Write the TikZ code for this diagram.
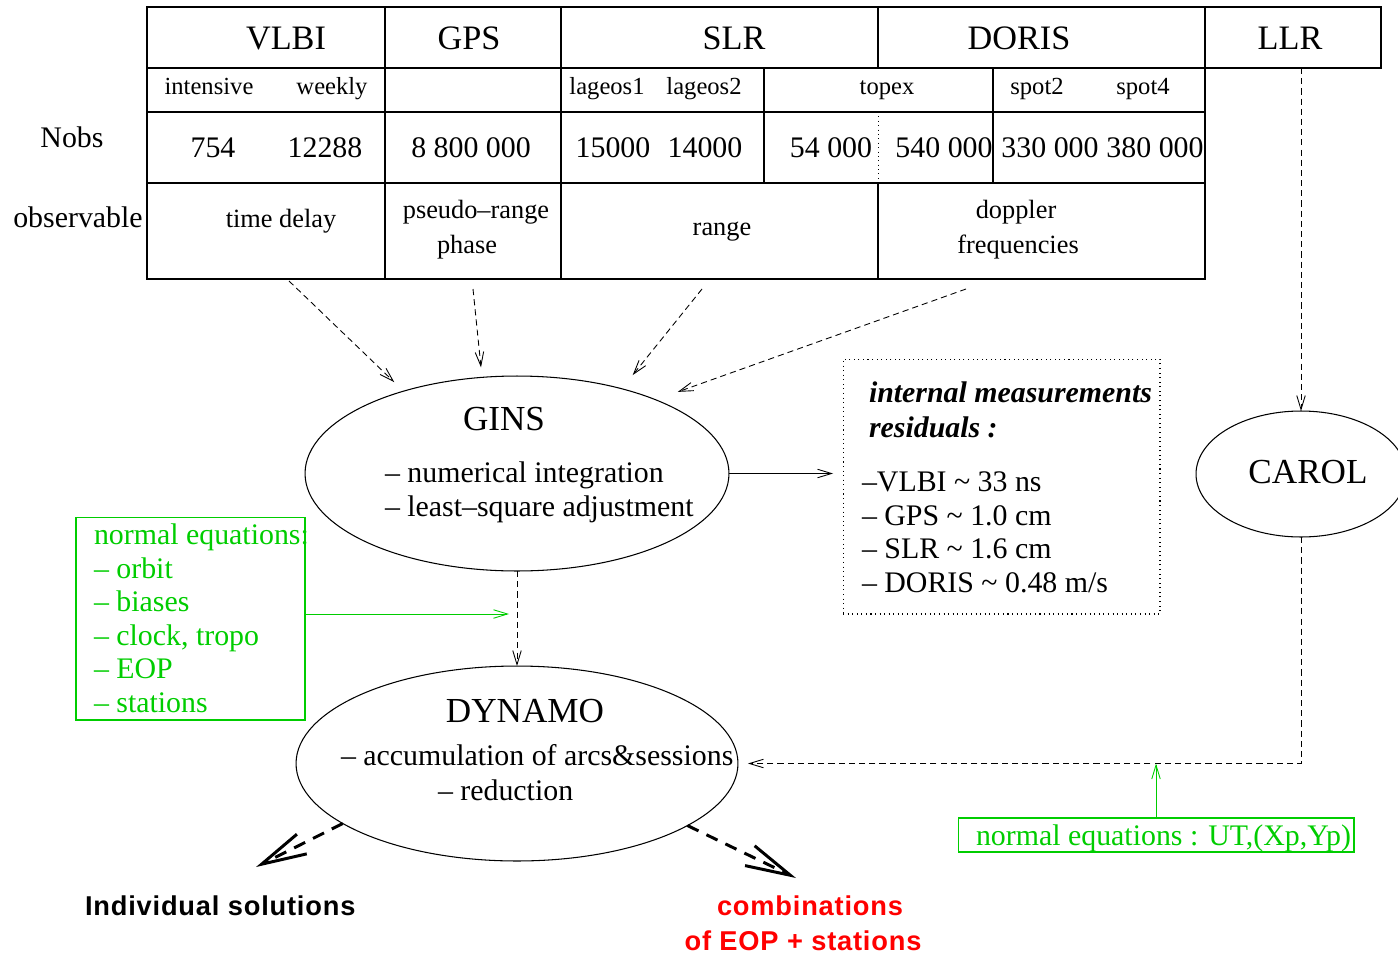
\documentclass[tikz,border=0pt]{standalone}
\usepackage{fontspec}
\setmainfont{Liberation Serif}
\setsansfont{Liberation Sans}
\newfontfamily\widesans[LetterSpace=3,BoldFont={Liberation Sans Bold}]{Liberation Sans}
\usetikzlibrary{arrows.meta,shapes.geometric}
\definecolor{fgreen}{RGB}{0,205,0}
\definecolor{fred}{RGB}{255,0,0}
\begin{document}
\begin{tikzpicture}[x=0.02cm,y=-0.02cm,
  every node/.style={inner sep=0pt,outer sep=0pt},
  hd/.style={font=\fontsize{19.5}{22}\selectfont,anchor=base},
  sublbl/.style={font=\fontsize{14}{16}\selectfont,anchor=base},
  num/.style={font=\fontsize{17}{20}\selectfont,anchor=base},
  obs/.style={font=\fontsize{15}{18}\selectfont,anchor=base},
  txt/.style={font=\fontsize{17}{20}\selectfont,anchor=base west},
  ttl/.style={font=\fontsize{20}{24}\selectfont,anchor=base},
  gtxt/.style={txt,text=fgreen},
  bigsans/.style={font=\widesans\bfseries\fontsize{15.5}{18}\selectfont,anchor=base},
  oval/.style={draw,ellipse,line width=0.6pt},
  tline/.style={line width=0.6pt},
  thinarrow/.style={-{Straight Barb[length=0.28cm,width=0.17cm]}},
  dsh/.style={thinarrow,line width=0.5pt,dash pattern=on 3.5pt off 2.3pt},
  garrow/.style={thinarrow,line width=0.5pt,draw=fgreen},
  thickarrow/.style={line width=1.7pt,dash pattern=on 7pt off 5pt,
     -{Straight Barb[length=0.9cm,width=0.44cm,line width=1.7pt]}}
]
\useasboundingbox (0,0) rectangle (1398,953);

% ---------------- table ----------------
\draw[line width=0.9pt] (147,7) rectangle (1205,279);
\node[draw,line width=0.6pt,minimum width=3.52cm,minimum height=1.22cm] (llrbox) at (1293,37.5) {};
\draw[tline] (147,68) -- (1205,68);
\draw[tline] (147,112) -- (1205,112);
\draw[tline] (147,183) -- (1205,183);
\draw[tline] (385,7) -- (385,279);
\draw[tline] (561,7) -- (561,279);
\draw[tline] (878,7) -- (878,68);
\draw[tline] (878,183) -- (878,279);
\draw[tline] (764,68) -- (764,183);
\draw[tline] (993,68) -- (993,183);
\draw[line width=0.5pt,dotted] (878,112) -- (878,183);

\node[hd] (vlbi) at (286,50) {VLBI};
\node[hd] (gps) at (469,50) {GPS};
\node[hd] (slr) at (734,50) {SLR};
\node[hd] (doris) at (1019,50) {DORIS};
\node[hd] (llr) at (1290,50) {LLR};

\node[sublbl] (intensive) at (209,94) {intensive};
\node[sublbl] (weekly) at (332,94) {weekly};
\node[sublbl] (lageosA) at (607,94) {lageos1};
\node[sublbl] (lageosB) at (704,94) {lageos2};
\node[sublbl] (topex) at (887,94) {topex};
\node[sublbl] (spotA) at (1037,94) {spot2};
\node[sublbl] (spotB) at (1143,94) {spot4};

\node[num] (nobs) at (72,147) {Nobs};
\node[num] (observable) at (78,227) {observable};

\node[num] (nA) at (213,157) {754};
\node[num] (nB) at (325,157) {12288};
\node[num] (nC) at (471,157) {8 800 000};
\node[num] (nD) at (613,157) {15000};
\node[num] (nE) at (705,157) {14000};
\node[num] (nF) at (831,157) {54 000};
\node[num] (nG) at (944,157) {540 000};
\node[num] (nH) at (1050,157) {330 000};
\node[num] (nI) at (1155,157) {380 000};

\node[obs] (timedelay) at (281,227) {time delay};
\node[obs] (pseudo) at (476,218) {pseudo–range};
\node[obs] (phase) at (467,253) {phase};
\node[obs] (range) at (722,235) {range};
\node[obs] (doppler) at (1016,218) {doppler};
\node[obs] (freq) at (1018,253) {frequencies};

% ---------------- GINS ----------------
\node[oval,minimum width=8.48cm,minimum height=3.9cm] (gins) at (517,473.5) {};
\node[ttl] (ginst) at (504,430) {GINS};
\node[txt] (ginsA) at (385,482) {– numerical integration};
\node[txt] (ginsB) at (385,516) {– least–square adjustment};

% ---------------- residuals box ----------------
\node[draw,dotted,line width=0.6pt,minimum width=6.34cm,minimum height=5.1cm] (res) at (1001.5,486.5) {};
\node[txt,font=\fontsize{17}{20}\selectfont\bfseries\itshape] (resA) at (869,402) {internal measurements};
\node[txt,font=\fontsize{17}{20}\selectfont\bfseries\itshape] (resB) at (869,437) {residuals :};
\node[txt] (resC) at (862,491) {–VLBI \textasciitilde{} 33 ns};
\node[txt] (resD) at (862,525) {– GPS \textasciitilde{} 1.0 cm};
\node[txt] (resE) at (862,558) {– SLR \textasciitilde{} 1.6 cm};
\node[txt] (resF) at (862,592) {– DORIS \textasciitilde{} 0.48 m/s};

% ---------------- CAROL ----------------
\node[oval,minimum width=4.2cm,minimum height=2.52cm] (carol) at (1301,474) {};
\node[ttl] (carolt) at (1308,483) {CAROL};

% ---------------- normal equations (left) ----------------
\node[draw=fgreen,line width=0.6pt,minimum width=4.58cm,minimum height=4.06cm] (ne) at (190.5,618.5) {};
\node[gtxt] (neA) at (94,544) {normal equations:};
\node[gtxt] (neB) at (94,578) {– orbit};
\node[gtxt] (neC) at (94,611) {– biases};
\node[gtxt] (neD) at (94,645) {– clock, tropo};
\node[gtxt] (neE) at (94,678) {– EOP};
\node[gtxt] (neF) at (94,712) {– stations};

% ---------------- DYNAMO ----------------
\node[oval,minimum width=8.84cm,minimum height=3.9cm] (dyn) at (517,763.5) {};
\node[ttl] (dynt) at (525,722) {DYNAMO};
\node[txt] (dynA) at (341,765) {– accumulation of arcs\&sessions};
\node[txt] (dynB) at (438,800) {– reduction};

% ---------------- normal equations UT ----------------
\node[draw=fgreen,line width=0.6pt,minimum width=7.92cm,minimum height=0.68cm] (ut) at (1156,835) {};
\node[gtxt] (utt) at (976,845) {normal equations : UT,(Xp,Yp)};

% ---------------- bottom labels ----------------
\node[bigsans,anchor=base west] (indiv) at (85,915) {Individual solutions};
\node[bigsans,text=fred] (combA) at (810,915) {combinations};
\node[bigsans,text=fred] (combB) at (803,950) {of EOP + stations};

% ---------------- connectors ----------------
\coordinate (sA) at (289,281);
\coordinate (sB) at (473,289);
\coordinate (sC) at (702,289);
\coordinate (sD) at (966,289);
\draw[dsh,shorten >=0.26cm] (sA) -- (gins.144);
\draw[dsh,shorten >=0.2cm] (sB) -- (gins.110);
\draw[dsh,shorten >=0.35cm] (sC) -- (gins.39);
\draw[dsh,shorten >=0.47cm] (sD) -- (gins.28);

\draw[thinarrow,line width=0.5pt,shorten >=0.2cm] (gins.east) -- (gins.east -| res.west);
\draw[dsh] (gins.south) -- (dyn.north);
\path (ne.east) ++(0,-4.5) coordinate (neout);
\draw[garrow,shorten >=0.16cm] (neout) -- (neout -| gins.south);

\draw[dsh] (llrbox.south -| carol.north) -- (carol.north);
\draw[dsh,shorten >=0.2cm] (carol.south) |- (dyn.east);
\draw[garrow] (ut.north) -- (ut.north |- dyn.east);

\coordinate (tA) at (256,867);
\coordinate (tB) at (796,878);
\draw[thickarrow] (dyn.199) -- (tA);
\draw[thickarrow] (dyn.340) -- (tB);
\end{tikzpicture}
\end{document}
